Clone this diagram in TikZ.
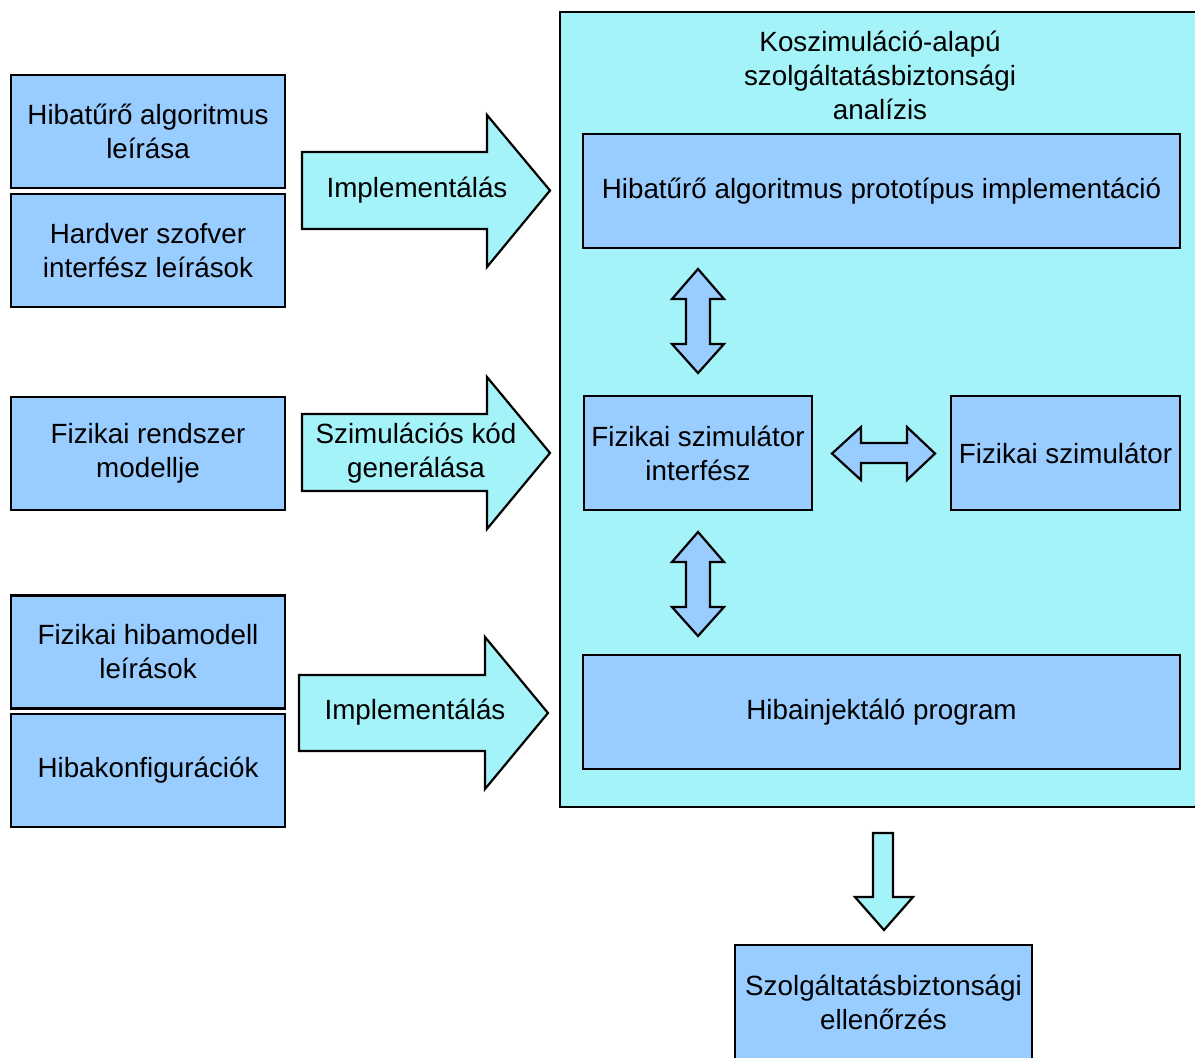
\documentclass[tikz,border=0pt]{standalone}
\usepackage{fontspec}
\setmainfont{Liberation Sans}
\usetikzlibrary{calc}

\definecolor{boxblue}{RGB}{153,204,255}
\definecolor{cosimcyan}{RGB}{164,243,249}

\begin{document}
\begin{tikzpicture}[x=0.5pt,y=-0.5pt,line width=1.1pt,
        font=\fontsize{13.9}{17}\selectfont,
        box/.style={draw, fill=boxblue, align=center, inner sep=0pt},
        bigarrow/.style={draw, fill=cosimcyan, line join=miter},
        dblarrow/.style={draw, fill=boxblue, line join=miter},
        label/.style={align=center, inner sep=0pt}]
        \useasboundingbox (0,0) rectangle (1195,1057);

        % koszimulacio keret
        \node[draw, fill=cosimcyan, minimum width=327.5pt, minimum height=397.5pt, inner sep=0pt] (cosim) at (887.5,409.5) {};
        \node[label] (cosimtitle) at (880,75) {Koszimuláció-alapú\\szolgáltatásbiztonsági\\analízis};

        % bemenetek
        \node[box, minimum width=137pt, minimum height=56.5pt] (algleiras) at (148,131.5) {Hibatűrő algoritmus\\leírása};
        \node[box, minimum width=137pt, minimum height=56.5pt] (hwsw) at (148,250.5) {Hardver szofver\\interfész leírások};
        \node[box, minimum width=137pt, minimum height=56.5pt] (fizmodell) at (148,453.5) {Fizikai rendszer\\modellje};
        \node[box, minimum width=137pt, minimum height=56.5pt] (hibamodell) at (148,652) {Fizikai hibamodell\\leírások};
        \node[box, minimum width=137pt, minimum height=56.5pt] (hibakonf) at (148,770.5) {Hibakonfigurációk};

        % nagy nyilak
        \draw[bigarrow] (302,152) -- (487,152) -- (487,115) -- (550,190.5) -- (487,267) -- (487,229) -- (302,229) -- cycle;
        \node[label] (impl1) at (417,190) {Implementálás};
        \draw[bigarrow] (302,414) -- (487,414) -- (487,377) -- (550,453) -- (487,529) -- (487,491) -- (302,491) -- cycle;
        \node[label] (szimkod) at (416,453) {Szimulációs kód\\generálása};
        \draw[bigarrow] (299,675) -- (485,675) -- (485,637) -- (548,713) -- (485,789) -- (485,751) -- (299,751) -- cycle;
        \node[label] (impl2) at (415,712) {Implementálás};

        % belso blokkok
        \node[box, minimum width=298.5pt, minimum height=57pt] (prototipus) at (881.5,191) {Hibatűrő algoritmus prototípus implementáció};
        \node[box, minimum width=114pt, minimum height=57pt] (szimif) at (698,453) {Fizikai szimulátor\\interfész};
        \node[box, minimum width=114.5pt, minimum height=57pt] (szimulator) at (1065.5,453) {Fizikai szimulátor};
        \node[box, minimum width=298.5pt, minimum height=57pt] (injektor) at (881.5,712) {Hibainjektáló program};

        % kettos nyilak
        \draw[dblarrow] (698,269) -- (724,299) -- (710,299) -- (710,344) -- (724,344) -- (698,373) -- (672,344) -- (686,344) -- (686,299) -- (672,299) -- cycle;
        \draw[dblarrow] (698,532) -- (724,562) -- (710,562) -- (710,607) -- (724,607) -- (698,636) -- (672,607) -- (686,607) -- (686,562) -- (672,562) -- cycle;
        \draw[dblarrow] (832,453.5) -- (861,427) -- (861,443) -- (907,443) -- (907,427) -- (935,453.5) -- (907,480) -- (907,463) -- (861,463) -- (861,480) -- cycle;

        % kimenet
        \draw[bigarrow] (873,833) -- (893,833) -- (893,897) -- (913,897) -- (884,930) -- (855,897) -- (873,897) -- cycle;
        \node[box, minimum width=148.5pt, minimum height=57.5pt] (ellenorzes) at (883.5,1002.5) {Szolgáltatásbiztonsági\\ellenőrzés};
    \end{tikzpicture}
\end{document}
